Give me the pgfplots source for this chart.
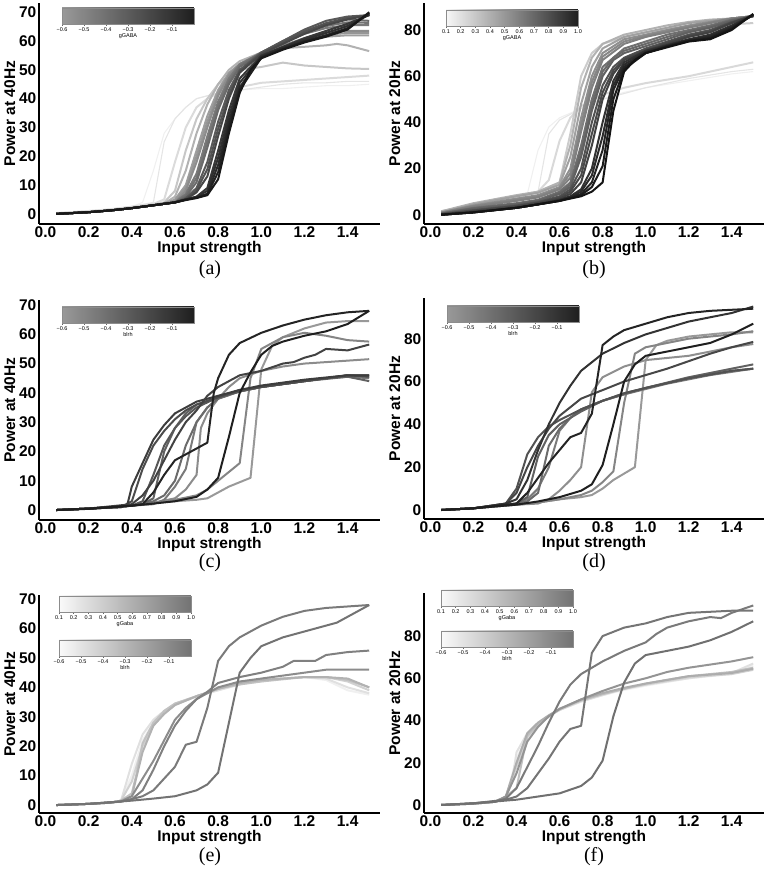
\documentclass[border=0pt]{standalone}
\usepackage{fontspec}
\setmainfont{Liberation Sans}
\newfontfamily\capfont{Liberation Serif}
\usepackage{pgfplots}
\pgfplotsset{compat=1.18}

\pgfplotsset{
  panel/.style={
    scale only axis, width=341pt, height=221pt,
    xmin=-0.03, xmax=1.55,
    axis x line=bottom, axis y line=left,
    axis line style={-, line width=1.2pt},
    major tick length=0pt,
    xtick={0,0.2,0.4,0.6,0.8,1.0,1.2,1.4},
    xticklabel style={/pgf/number format/fixed, /pgf/number format/fixed zerofill, /pgf/number format/precision=1, anchor=base, yshift=-13.5pt},
    yticklabel style={inner sep=2.5pt},
    /pgf/number format/assume math mode=true,
    tick label style={font=\fontsize{15.5}{16}\selectfont\bfseries},
    xlabel={Input strength},
    xlabel style={at={(axis description cs:0.5,-0.112)}, anchor=center, font=\fontsize{15.5}{16}\selectfont\bfseries},
    ylabel style={at={(axis description cs:-0.086,0.5)}, rotate=0, anchor=center, font=\fontsize{15.5}{16}\selectfont\bfseries},
    every axis plot/.append style={line width=2pt, line join=round, no markers},
    clip=false,
  },
  thin/.style={line width=1.1pt},
}

% colour bar: x, y, xmin, xmax, ticks, tick labels, left colour, right colour, label
\newcommand{\cbar}[9]{%
  \begin{axis}[at={(#1pt,#2pt)}, anchor=south west, scale only axis,
    width=132pt, height=16pt, xmin=#3, xmax=#4, ymin=0, ymax=1,
    ytick=\empty, xtick={#5}, xticklabels={#6}, axis on top,
    axis line style={black!45, line width=0.4pt},
    tick style={black!60, line width=0.4pt}, major tick length=2pt,
    tick align=outside, xtick pos=bottom,
    tick label style={font=\fontsize{5.5}{6}\selectfont, inner sep=1pt},
    xlabel={#9}, xlabel style={font=\fontsize{5.5}{6}\selectfont, inner sep=0pt, yshift=-1.5pt}]
    \fill[left color=#7, right color=#8] (axis cs:#3,0) rectangle (axis cs:#4,1);
  \end{axis}}

\begin{document}
\begin{tikzpicture}
\path[use as bounding box] (0pt,0pt) rectangle (768pt,876pt);

% ---------------- (a)
\begin{axis}[panel, at={(39pt,652pt)}, anchor=south west, ymin=-3.5, ymax=73.2,
  ytick={0,10,20,30,40,50,60,70}, ylabel={Power at 40Hz}]
\addplot[black!6, thin] coordinates {(0.05,0.3)(0.2,1)(0.3,1.6)(0.4,2.6)(0.45,4)(0.5,15)(0.55,28)(0.6,33)(0.65,37)(0.7,40)(0.75,41)(0.8,42)(0.9,43)(1.0,43.5)(1.1,43.5)(1.2,44)(1.3,44.5)(1.4,44.5)(1.5,45)};
\addplot[black!10, thin] coordinates {(0.05,0.3)(0.2,1)(0.3,1.6)(0.4,2.6)(0.5,4)(0.55,25)(0.6,33)(0.65,37)(0.7,40)(0.75,41)(0.8,42)(0.9,43)(1.0,44)(1.1,45)(1.2,45.5)(1.3,45.5)(1.4,46)(1.5,46)};
\addplot[black!14] coordinates {(0.05,0.3)(0.2,1)(0.3,1.6)(0.4,2.5)(0.5,3.5)(0.55,5)(0.6,18)(0.65,30)(0.7,37)(0.75,40)(0.8,42)(0.9,44)(1.0,45.5)(1.1,46)(1.2,46.5)(1.3,47)(1.4,47.5)(1.5,48)};
\addplot[black!22] coordinates {(0.05,0.1)(0.2,0.7)(0.3,1.3)(0.4,2.2)(0.5,3.2)(0.55,4)(0.6,8)(0.65,22)(0.7,33)(0.75,40)(0.8,45)(0.85,48)(0.9,50)(1.0,51)(1.1,52.5)(1.2,51.5)(1.3,51)(1.4,50.5)(1.5,50.3)};
\addplot[black!30] coordinates {(0.05,0)(0.2,0.6)(0.3,1.2)(0.4,2)(0.5,3)(0.55,3.6)(0.6,6)(0.65,15)(0.7,28)(0.75,38)(0.8,45)(0.85,50)(0.9,53)(1.0,56)(1.1,57.5)(1.2,58)(1.3,58.5)(1.35,59)(1.4,58.5)(1.5,56.5)};
\addplot[black!38] coordinates {(0.05,0)(0.2,0.6)(0.3,1.2)(0.4,2)(0.5,3)(0.55,3.5)(0.6,5)(0.65,10)(0.7,22)(0.75,34)(0.8,43)(0.85,49)(0.9,52)(1.0,55)(1.1,58)(1.2,60)(1.3,61.5)(1.4,62)(1.5,62)};
\addplot[black!41] coordinates {(0.05,0)(0.2,0.6)(0.3,1.2)(0.4,2)(0.5,3)(0.6,4.5)(0.65,9)(0.7,20)(0.75,32)(0.8,42)(0.85,48.5)(0.9,52)(1.0,55.2)(1.1,58.2)(1.2,60.5)(1.3,62.2)(1.4,62.8)(1.5,62.8)};
\addplot[black!45] coordinates {(0.05,0)(0.2,0.6)(0.3,1.2)(0.4,2)(0.5,3)(0.6,4)(0.65,8)(0.7,18)(0.75,30)(0.8,41)(0.85,48)(0.9,52)(1.0,55.5)(1.1,58.5)(1.2,61)(1.3,63)(1.4,63.5)(1.5,63.5)};
\addplot[black!52] coordinates {(0.05,0)(0.2,0.6)(0.3,1.2)(0.4,2)(0.5,3)(0.6,4)(0.65,7)(0.7,14)(0.75,27)(0.8,39)(0.85,47)(0.9,52)(1.0,56)(1.1,59.5)(1.2,62.5)(1.3,64.5)(1.4,65.5)(1.5,65.5)};
\addplot[black!55] coordinates {(0.05,0)(0.2,0.6)(0.3,1.2)(0.4,2)(0.5,3)(0.6,4)(0.65,6.5)(0.7,12.5)(0.75,25)(0.8,37.5)(0.85,46)(0.9,51.5)(1.0,56)(1.1,59.8)(1.2,63)(1.3,65.2)(1.4,66.5)(1.5,66.3)};
\addplot[black!58] coordinates {(0.05,0)(0.2,0.6)(0.3,1.2)(0.4,2)(0.5,3)(0.6,4)(0.65,6)(0.7,11)(0.75,23)(0.8,36)(0.85,45)(0.9,51)(1.0,56)(1.1,60)(1.2,63.5)(1.3,66)(1.4,67.5)(1.5,67)};
\addplot[black!65] coordinates {(0.05,0)(0.2,0.6)(0.3,1.2)(0.4,2)(0.5,3)(0.6,4)(0.65,5.5)(0.7,9)(0.75,18)(0.8,32)(0.85,43)(0.9,50)(1.0,56)(1.1,60)(1.2,64)(1.3,67)(1.4,68.5)(1.5,69)};
\addplot[black!68] coordinates {(0.05,0)(0.2,0.6)(0.3,1.2)(0.4,2)(0.5,3)(0.6,4)(0.65,5.2)(0.7,8.2)(0.75,15.5)(0.8,29.5)(0.85,41.5)(0.9,49.5)(1.0,55.8)(1.1,59.5)(1.2,63.2)(1.3,66.2)(1.4,68)(1.5,69)};
\addplot[black!72] coordinates {(0.05,0)(0.2,0.6)(0.3,1.2)(0.4,2)(0.5,3)(0.6,4)(0.65,5)(0.7,7.5)(0.75,13)(0.8,27)(0.85,40)(0.9,49)(1.0,55.5)(1.1,59)(1.2,62.5)(1.3,65.5)(1.4,67.5)(1.5,69)};
\addplot[black!78] coordinates {(0.05,0)(0.2,0.6)(0.3,1.2)(0.4,2)(0.5,3)(0.6,4)(0.65,5)(0.7,6)(0.75,9)(0.8,22)(0.85,36)(0.9,47)(1.0,55)(1.1,58)(1.2,61)(1.3,63.5)(1.4,66)(1.5,69)};
\addplot[black!81] coordinates {(0.05,0)(0.2,0.6)(0.3,1.2)(0.4,2)(0.5,3)(0.6,4)(0.65,5)(0.7,5.9)(0.75,8)(0.8,19.5)(0.85,34)(0.9,45.5)(1.0,54.8)(1.1,57.8)(1.2,60.5)(1.3,62.8)(1.4,65.2)(1.5,69.2)};
\addplot[black!84] coordinates {(0.05,0)(0.2,0.6)(0.3,1.2)(0.4,2)(0.5,3)(0.6,4)(0.65,5)(0.7,5.8)(0.75,7)(0.8,17)(0.85,32)(0.9,44)(1.0,54.5)(1.1,57.5)(1.2,60)(1.3,62)(1.4,64.5)(1.5,69.5)};
\addplot[black!87] coordinates {(0.05,0)(0.2,0.6)(0.3,1.2)(0.4,2)(0.5,3)(0.6,4)(0.65,4.9)(0.7,5.6)(0.75,6.8)(0.8,14.5)(0.85,30)(0.9,43)(1.0,54.2)(1.1,57.2)(1.2,59.8)(1.3,61.8)(1.4,64.2)(1.5,69.8)};
\addplot[black!90] coordinates {(0.05,0)(0.2,0.6)(0.3,1.2)(0.4,2)(0.5,3)(0.6,4)(0.65,4.8)(0.7,5.5)(0.75,6.5)(0.8,12)(0.85,28)(0.9,42)(0.95,50)(1.0,54)(1.1,57)(1.2,59.5)(1.3,61.5)(1.4,64)(1.5,70)};
\end{axis}

% ---------------- (b)
\begin{axis}[panel, width=340pt, at={(424pt,652pt)}, anchor=south west, ymin=-4, ymax=91.7,
  ytick={0,20,40,60,80}, ylabel={Power at 20Hz}]
\addplot[black!6, thin] coordinates {(0.05,1.5)(0.2,4)(0.3,5.5)(0.4,7)(0.45,9)(0.5,28)(0.55,38)(0.6,42)(0.7,46)(0.8,50)(0.9,53)(1.0,55)(1.2,58)(1.4,61)(1.5,62)};
\addplot[black!10, thin] coordinates {(0.05,1.5)(0.2,4)(0.3,5.5)(0.4,7)(0.5,10)(0.55,35)(0.6,41)(0.7,46)(0.8,50)(1.0,55)(1.2,59)(1.4,62)(1.5,63)};
\addplot[black!15] coordinates {(0.05,1.5)(0.2,4)(0.4,7.5)(0.5,10)(0.55,15)(0.6,32)(0.65,42)(0.7,47)(0.8,52)(0.9,55)(1.0,57)(1.2,60)(1.4,64)(1.5,66)};
\addplot[black!20] coordinates {(0.05,1.5)(0.2,4.5)(0.4,8)(0.5,10)(0.6,14)(0.65,35)(0.7,60)(0.75,70)(0.8,74)(0.9,77)(1.0,79)(1.1,80.5)(1.2,81.5)(1.3,82)(1.4,82.5)(1.5,83)};
\addplot[black!30] coordinates {(0.05,1.5)(0.2,5)(0.4,8.5)(0.5,10)(0.6,14)(0.65,30)(0.7,55)(0.75,68)(0.8,74)(0.9,78)(1.0,80)(1.1,82)(1.2,83.5)(1.3,84.5)(1.4,85)(1.5,86)};
\addplot[black!37] coordinates {(0.05,1)(0.2,4.5)(0.4,8)(0.5,9.5)(0.6,13)(0.65,25)(0.7,48)(0.75,64)(0.8,72)(0.9,77)(1.0,79)(1.1,81)(1.2,83)(1.3,84)(1.4,85)(1.5,86)};
\addplot[black!44] coordinates {(0.05,1)(0.2,4)(0.4,7)(0.5,8.5)(0.6,12)(0.65,20)(0.7,42)(0.75,60)(0.8,70)(0.9,76)(1.0,78)(1.1,80)(1.2,82)(1.3,83.5)(1.4,85)(1.5,86)};
\addplot[black!47] coordinates {(0.05,0.9)(0.2,3.8)(0.4,6.5)(0.5,8)(0.6,11.5)(0.65,18)(0.7,39)(0.75,57.5)(0.8,68.5)(0.9,75)(1.0,77.5)(1.1,79.5)(1.2,81.5)(1.3,83.2)(1.4,85)(1.5,86)};
\addplot[black!50] coordinates {(0.05,0.8)(0.2,3.5)(0.4,6)(0.5,7.5)(0.6,11)(0.65,16)(0.7,36)(0.75,55)(0.8,67)(0.9,74)(1.0,77)(1.1,79)(1.2,81)(1.3,83)(1.4,85)(1.5,86)};
\addplot[black!56] coordinates {(0.05,0.6)(0.2,3)(0.4,5)(0.5,6.5)(0.6,10)(0.65,14)(0.7,30)(0.75,50)(0.8,64)(0.9,72)(1.0,75)(1.1,78)(1.2,80)(1.3,82)(1.4,84.5)(1.5,86)};
\addplot[black!59] coordinates {(0.05,0.5)(0.2,2.8)(0.4,4.8)(0.5,6.2)(0.6,9.5)(0.65,13)(0.7,27.5)(0.75,47.5)(0.8,62)(0.85,68)(0.9,71)(1.0,74)(1.1,77)(1.2,79.5)(1.3,81.5)(1.4,84.2)(1.5,86)};
\addplot[black!62] coordinates {(0.05,0.5)(0.2,2.5)(0.4,4.5)(0.5,6)(0.6,9)(0.65,12)(0.7,25)(0.75,45)(0.8,60)(0.85,67)(0.9,70)(1.0,73)(1.1,76)(1.2,79)(1.3,81)(1.4,84)(1.5,86)};
\addplot[black!68] coordinates {(0.05,0.3)(0.2,2)(0.4,4)(0.5,5.5)(0.6,8)(0.65,11)(0.7,20)(0.75,40)(0.8,56)(0.85,64)(0.9,68)(1.0,72)(1.1,75)(1.2,78)(1.3,80)(1.4,83.5)(1.5,86)};
\addplot[black!71] coordinates {(0.05,0.2)(0.2,1.8)(0.4,3.8)(0.5,5.2)(0.6,7.5)(0.65,10)(0.7,17)(0.75,35)(0.8,53)(0.85,62.5)(0.9,67.5)(1.0,71.5)(1.1,74.5)(1.2,77.5)(1.3,79.5)(1.4,83.2)(1.5,86.2)};
\addplot[black!74] coordinates {(0.05,0.2)(0.2,1.5)(0.4,3.5)(0.5,5)(0.6,7)(0.65,9)(0.7,14)(0.75,30)(0.8,50)(0.85,61)(0.9,67)(1.0,71)(1.1,74)(1.2,77)(1.3,79)(1.4,83)(1.5,86.5)};
\addplot[black!80] coordinates {(0.05,0)(0.2,1.2)(0.4,3)(0.5,4.5)(0.6,6.5)(0.65,8)(0.7,11)(0.75,20)(0.8,40)(0.85,58)(0.9,66)(1.0,71)(1.1,73.5)(1.2,76)(1.3,78)(1.4,82)(1.5,86.5)};
\addplot[black!83] coordinates {(0.05,0)(0.2,1.1)(0.4,3)(0.5,4.5)(0.6,6.2)(0.65,7.8)(0.7,10)(0.75,17)(0.8,34)(0.85,56)(0.9,65)(1.0,70.5)(1.1,73.2)(1.2,75.8)(1.3,77.5)(1.4,81.5)(1.5,86.5)};
\addplot[black!86] coordinates {(0.05,0)(0.2,1)(0.4,3)(0.5,4.5)(0.6,6)(0.65,7.5)(0.7,9)(0.75,14)(0.8,28)(0.85,54)(0.9,64)(1.0,70)(1.1,73)(1.2,75.5)(1.3,77)(1.4,81)(1.5,86.5)};
\addplot[black!89] coordinates {(0.05,0)(0.2,1)(0.4,3)(0.5,4.5)(0.6,6)(0.65,7.2)(0.7,8.5)(0.75,12)(0.8,21)(0.85,50)(0.9,63)(1.0,70)(1.1,72.8)(1.2,75.2)(1.3,76.5)(1.4,80.5)(1.5,86.8)};
\addplot[black!92] coordinates {(0.05,0)(0.2,1)(0.4,3)(0.5,4.5)(0.6,6)(0.65,7)(0.7,8)(0.75,10)(0.8,14)(0.85,45)(0.9,62)(0.95,67)(1.0,70)(1.1,72.5)(1.2,75)(1.3,76)(1.4,80)(1.5,87)};
\end{axis}

% ---------------- (c)
\begin{axis}[panel, height=220pt, at={(39pt,356pt)}, anchor=south west, ymin=-3.4, ymax=71.7,
  ytick={0,10,20,30,40,50,60,70}, ylabel={Power at 40Hz}]
\addplot[black!40] coordinates {(0.05,0)(0.2,0.5)(0.35,1)(0.4,1.5)(0.5,2.5)(0.6,3)(0.7,3.5)(0.75,4)(0.8,6)(0.85,8)(0.9,9.5)(0.95,11)(1.0,48)(1.05,56)(1.1,59)(1.2,62)(1.3,64)(1.4,64.5)(1.5,64.5)};
\addplot[black!45] coordinates {(0.05,0)(0.2,0.5)(0.4,1.5)(0.5,2.5)(0.6,4)(0.65,7)(0.7,12)(0.72,28)(0.75,33)(0.8,38)(0.85,42)(0.9,45)(1.0,47.5)(1.1,49)(1.2,50)(1.3,50.5)(1.4,51)(1.5,51.5)};
\addplot[black!48] coordinates {(0.05,0)(0.2,0.5)(0.4,1.5)(0.5,2.5)(0.6,3.5)(0.7,5)(0.75,7)(0.8,10)(0.85,13)(0.9,16)(0.95,45)(1.0,55)(1.1,59)(1.2,60.5)(1.3,59.5)(1.4,58)(1.5,57.5)};
\addplot[black!52] coordinates {(0.05,0)(0.2,0.5)(0.35,1)(0.4,1.5)(0.5,2)(0.55,3.5)(0.6,8)(0.65,14)(0.7,30)(0.75,35)(0.8,38)(0.9,40.5)(1.0,42)(1.1,43)(1.2,44)(1.3,45)(1.4,45.5)(1.5,45)};
\addplot[black!58] coordinates {(0.05,0)(0.2,0.5)(0.4,1.5)(0.45,2)(0.5,3)(0.55,5)(0.6,10)(0.65,22)(0.7,30)(0.75,35)(0.8,38)(0.9,40.5)(1.0,42)(1.2,44)(1.4,46)(1.5,46)};
\addplot[black!62] coordinates {(0.05,0)(0.2,0.5)(0.4,1.5)(0.45,2)(0.5,4)(0.55,20)(0.6,28)(0.65,33)(0.7,36)(0.8,38.5)(0.9,40.5)(1.0,42)(1.2,44)(1.4,45.5)(1.5,44)};
\addplot[black!66] coordinates {(0.05,0)(0.2,0.5)(0.4,1.5)(0.45,3)(0.5,12)(0.55,22)(0.6,28)(0.65,32)(0.7,35)(0.8,38.5)(0.9,40.5)(1.0,42)(1.2,44)(1.4,46)(1.5,46)};
\addplot[black!70] coordinates {(0.05,0)(0.2,0.5)(0.35,1)(0.4,3)(0.45,14)(0.5,22)(0.55,27)(0.6,31)(0.65,34)(0.7,36)(0.8,38.5)(0.9,41)(1.0,42)(1.2,44)(1.4,46)(1.5,45.5)};
\addplot[black!76] coordinates {(0.05,0)(0.2,0.5)(0.35,1)(0.38,2)(0.4,8)(0.45,16)(0.5,24)(0.55,29)(0.6,33)(0.65,35)(0.7,37)(0.8,39)(0.9,41)(1.0,42.5)(1.2,44.5)(1.4,46)(1.5,46)};
\addplot[black!74] coordinates {(0.05,0)(0.2,0.5)(0.4,2)(0.45,5)(0.5,10)(0.55,17)(0.6,24)(0.65,30)(0.7,34)(0.75,39)(0.8,42)(0.85,44)(0.9,46)(1.0,47.5)(1.1,50)(1.15,50.5)(1.2,52)(1.25,53)(1.3,55)(1.4,54.5)(1.5,56.5)};
\addplot[black!86] coordinates {(0.05,0)(0.2,0.5)(0.4,1.5)(0.45,2)(0.5,6)(0.55,12)(0.6,17)(0.65,19)(0.7,21)(0.75,23)(0.78,40)(0.8,45)(0.85,53)(0.9,57)(1.0,60.5)(1.1,63)(1.2,65)(1.3,66.5)(1.4,67.5)(1.5,68)};
\addplot[black!88] coordinates {(0.05,0)(0.2,0.4)(0.4,1.5)(0.5,2.2)(0.6,3)(0.7,4.5)(0.75,7)(0.8,11)(0.85,25)(0.9,40)(0.95,47)(1.0,53)(1.05,56)(1.1,57.5)(1.2,59.5)(1.3,61)(1.4,63.5)(1.5,68)};
\end{axis}

% ---------------- (d)
\begin{axis}[panel, width=340pt, at={(424pt,357pt)}, anchor=south west, ymin=-4.2, ymax=99,
  ytick={0,20,40,60,80}, ylabel={Power at 20Hz}]
\addplot[black!40] coordinates {(0.05,0)(0.2,0.8)(0.4,2.5)(0.5,3.5)(0.6,5)(0.7,6)(0.75,7)(0.8,10)(0.85,14)(0.9,17)(0.95,20)(1.0,70)(1.05,77)(1.1,79)(1.2,81)(1.3,82)(1.4,83)(1.5,83)};
\addplot[black!44] coordinates {(0.05,0)(0.2,0.8)(0.4,2.5)(0.5,3)(0.55,5)(0.6,9)(0.65,14)(0.7,20)(0.75,55)(0.8,62)(0.9,67)(1.0,70)(1.1,71)(1.2,72)(1.3,74)(1.4,76)(1.5,77.5)};
\addplot[black!48] coordinates {(0.05,0)(0.2,0.8)(0.4,2.5)(0.5,3.5)(0.6,5)(0.7,7)(0.75,9)(0.8,13)(0.85,18)(0.9,50)(0.95,73)(1.0,76)(1.1,78)(1.2,80)(1.3,81)(1.4,82)(1.5,83.5)};
\addplot[black!52] coordinates {(0.05,0)(0.2,0.8)(0.4,3)(0.45,5)(0.5,10)(0.55,20)(0.6,37)(0.65,43)(0.7,47)(0.8,51)(0.9,54)(1.0,56.5)(1.1,59)(1.2,61)(1.3,63)(1.4,64.5)(1.5,66)};
\addplot[black!58] coordinates {(0.05,0)(0.2,0.8)(0.4,3)(0.45,4)(0.5,8)(0.55,30)(0.6,38)(0.65,43)(0.7,47)(0.8,51)(0.9,54)(1.0,57)(1.2,61.5)(1.4,65)(1.5,66)};
\addplot[black!62] coordinates {(0.05,0)(0.2,0.8)(0.4,3)(0.45,6)(0.5,25)(0.55,35)(0.6,40)(0.7,46)(0.8,51)(0.9,54.5)(1.0,57)(1.2,62)(1.4,66)(1.5,68)};
\addplot[black!68] coordinates {(0.05,0)(0.2,0.8)(0.35,3)(0.4,10)(0.45,26)(0.5,34)(0.55,39)(0.6,42)(0.7,47)(0.8,51)(0.9,54.5)(1.0,57)(1.2,61.5)(1.4,65)(1.5,66)};
\addplot[black!72] coordinates {(0.05,0)(0.2,0.8)(0.35,3)(0.4,8)(0.45,20)(0.5,30)(0.55,38)(0.6,44)(0.65,48)(0.7,52)(0.8,56)(0.9,60)(1.0,63)(1.1,66)(1.2,69.5)(1.3,73)(1.4,76)(1.5,78.5)};
\addplot[black!80] coordinates {(0.05,0)(0.2,0.8)(0.35,3)(0.4,5)(0.45,14)(0.5,28)(0.55,40)(0.6,50)(0.65,58)(0.7,65)(0.75,69)(0.8,73)(0.9,78)(1.0,82)(1.1,85)(1.2,88)(1.3,90)(1.4,92)(1.5,95)};
\addplot[black!86] coordinates {(0.05,0)(0.2,0.8)(0.4,3)(0.45,8)(0.5,15)(0.55,22)(0.6,28)(0.65,34)(0.7,36)(0.75,45)(0.8,77)(0.85,81)(0.9,84)(1.0,87)(1.1,90)(1.2,92)(1.3,93)(1.4,93.5)(1.5,94)};
\addplot[black!88] coordinates {(0.05,0)(0.2,0.8)(0.4,2.5)(0.5,4)(0.6,6)(0.7,9)(0.75,12)(0.8,21)(0.85,40)(0.9,60)(0.95,68)(1.0,72)(1.1,74)(1.2,76)(1.3,78)(1.4,82)(1.5,87)};
\end{axis}

% ---------------- (e)
\begin{axis}[panel, height=218pt, at={(39pt,63pt)}, anchor=south west, ymin=-2.7, ymax=71.4,
  ytick={0,10,20,30,40,50,60,70}, ylabel={Power at 40Hz}]
\addplot[black!6] coordinates {(0.05,0)(0.2,0.4)(0.3,0.8)(0.35,1.5)(0.4,10)(0.45,22)(0.5,28)(0.55,32)(0.6,34)(0.7,37)(0.8,39)(0.9,41)(1.0,42)(1.1,43)(1.2,43.5)(1.3,42.5)(1.4,39)(1.5,37.5)};
\addplot[black!12] coordinates {(0.05,0)(0.2,0.4)(0.3,0.8)(0.35,1.5)(0.4,14)(0.45,24)(0.5,29)(0.55,32)(0.6,34.5)(0.7,37)(0.8,39)(0.9,41)(1.0,42.5)(1.1,43)(1.2,43.5)(1.3,43)(1.4,40)(1.5,38)};
\addplot[black!18] coordinates {(0.05,0)(0.2,0.4)(0.3,0.8)(0.35,1.5)(0.4,8)(0.45,20)(0.5,27)(0.55,31)(0.6,34)(0.7,37)(0.8,39.5)(0.9,41.5)(1.0,42.5)(1.2,43.5)(1.3,43.5)(1.4,42)(1.5,39)};
\addplot[black!24] coordinates {(0.05,0)(0.2,0.4)(0.3,0.8)(0.35,1.5)(0.4,4)(0.42,10)(0.45,21)(0.5,28)(0.55,32)(0.6,34.5)(0.7,37)(0.8,39.5)(0.9,41)(1.0,42)(1.2,43.5)(1.3,43.5)(1.4,42.5)(1.5,40)};
\addplot[black!30] coordinates {(0.05,0)(0.2,0.4)(0.3,0.8)(0.35,1.5)(0.4,3)(0.45,18)(0.5,27)(0.55,31)(0.6,34)(0.7,37)(0.8,39.5)(0.9,41.5)(1.0,42.5)(1.2,43.5)(1.3,43.5)(1.4,43)(1.5,40)};
\addplot[black!45] coordinates {(0.05,0)(0.2,0.4)(0.3,0.8)(0.35,1.2)(0.4,3)(0.45,9)(0.5,15)(0.55,22)(0.6,29)(0.65,33)(0.7,36)(0.75,38)(0.8,40)(0.9,42)(1.0,43)(1.1,44)(1.2,45)(1.3,46)(1.4,46)(1.5,46)};
\addplot[black!50] coordinates {(0.05,0)(0.2,0.4)(0.35,1.2)(0.4,2)(0.45,5)(0.5,12)(0.55,20)(0.6,27)(0.65,32)(0.7,36)(0.75,38.5)(0.8,41.5)(0.9,43.5)(1.0,45)(1.1,47)(1.15,49)(1.25,49)(1.3,51)(1.4,52)(1.5,52.5)};
\addplot[black!52] coordinates {(0.05,0)(0.2,0.4)(0.35,1.2)(0.4,2)(0.45,3)(0.5,5)(0.55,9)(0.6,13)(0.65,20.5)(0.7,21.5)(0.75,33)(0.8,49)(0.85,54)(0.9,57)(0.95,59)(1.0,61)(1.1,64)(1.2,66)(1.3,67)(1.4,67.5)(1.5,68)};
\addplot[black!55] coordinates {(0.05,0)(0.2,0.4)(0.4,1.5)(0.5,2.2)(0.6,3)(0.7,5)(0.75,7)(0.8,11)(0.85,28)(0.9,45)(0.95,50)(1.0,54)(1.1,57)(1.2,59)(1.3,61)(1.35,62)(1.4,64)(1.5,68)};
\end{axis}

% ---------------- (f)
\begin{axis}[panel, width=340pt, height=220pt, at={(424pt,63pt)}, anchor=south west, ymin=-3.8, ymax=100.4,
  ytick={0,20,40,60,80}, ylabel={Power at 20Hz}]
\addplot[black!6] coordinates {(0.05,0)(0.2,0.6)(0.3,1.5)(0.35,3)(0.4,22)(0.45,33)(0.5,38)(0.55,42)(0.6,45)(0.7,49)(0.8,52)(0.9,54.5)(1.0,56.5)(1.2,60)(1.4,62)(1.5,66)};
\addplot[black!12] coordinates {(0.05,0)(0.2,0.6)(0.3,1.5)(0.35,3)(0.38,12)(0.4,25)(0.45,34)(0.5,39)(0.55,42)(0.6,45)(0.7,49)(0.8,52)(0.9,55)(1.0,57)(1.2,60)(1.4,62.5)(1.5,67)};
\addplot[black!18] coordinates {(0.05,0)(0.2,0.6)(0.3,1.5)(0.35,4)(0.4,18)(0.45,32)(0.5,38)(0.55,42)(0.6,45)(0.7,49.5)(0.8,52.5)(0.9,55)(1.0,57)(1.2,60.5)(1.4,62)(1.5,64)};
\addplot[black!25] coordinates {(0.05,0)(0.2,0.6)(0.3,1.5)(0.35,4)(0.4,8)(0.45,33)(0.5,38)(0.55,42)(0.6,45.5)(0.7,49.5)(0.8,52.5)(0.9,55)(1.0,57.5)(1.2,61)(1.4,63)(1.5,65)};
\addplot[black!32] coordinates {(0.05,0)(0.2,0.6)(0.3,1.5)(0.35,4)(0.4,20)(0.45,34)(0.5,39)(0.55,42.5)(0.6,45.5)(0.7,50)(0.8,53)(0.9,55.5)(1.0,57.5)(1.2,61)(1.4,62.5)(1.5,64.5)};
\addplot[black!42] coordinates {(0.05,0)(0.2,0.6)(0.3,1.5)(0.35,4)(0.4,15)(0.45,30)(0.5,37)(0.55,42)(0.6,45.5)(0.7,50)(0.8,54)(0.9,57.5)(1.0,60)(1.1,63)(1.2,65)(1.3,66.5)(1.4,68)(1.5,70)};
\addplot[black!52] coordinates {(0.05,0)(0.2,0.8)(0.3,1.5)(0.35,3)(0.4,8)(0.45,18)(0.5,28)(0.55,39)(0.6,49)(0.65,57)(0.7,62)(0.75,65)(0.8,68)(0.9,73)(0.95,75)(1.0,77)(1.05,81)(1.1,84)(1.2,87)(1.3,89)(1.35,88.5)(1.4,91)(1.5,94.5)};
\addplot[black!54] coordinates {(0.05,0)(0.2,0.8)(0.35,2.5)(0.4,4)(0.45,8)(0.5,15)(0.55,22)(0.6,30)(0.65,36)(0.7,37.5)(0.75,72)(0.8,80)(0.85,82)(0.9,84)(1.0,86)(1.1,89)(1.2,91)(1.3,91.5)(1.4,92)(1.5,92)};
\addplot[black!56] coordinates {(0.05,0)(0.2,0.8)(0.4,2.5)(0.5,4)(0.6,5.5)(0.7,9)(0.75,13)(0.8,21)(0.85,42)(0.9,58)(0.95,67)(1.0,71)(1.1,73)(1.2,75)(1.3,78)(1.4,82)(1.5,87)};
\end{axis}

% ---------------- colour bars
\cbar{62}{852}{-0.6}{0}{-0.6,-0.5,-0.4,-0.3,-0.2,-0.1}{−0.6,−0.5,−0.4,−0.3,−0.2,−0.1}{black!40}{black!88}{gGABA}
\cbar{446}{850}{0.1}{1.0}{0.1,0.2,...,1.0}{0.1,0.2,0.3,0.4,0.5,0.6,0.7,0.8,0.9,1.0}{black!3}{black!88}{gGABA}
\cbar{62}{553}{-0.6}{0}{-0.6,-0.5,-0.4,-0.3,-0.2,-0.1}{−0.6,−0.5,−0.4,−0.3,−0.2,−0.1}{black!40}{black!88}{blrh}
\cbar{447}{554}{-0.6}{0}{-0.6,-0.5,-0.4,-0.3,-0.2,-0.1}{−0.6,−0.5,−0.4,−0.3,−0.2,−0.1}{black!40}{black!88}{blrh}
\cbar{59}{264}{0.1}{1.0}{0.1,0.2,...,1.0}{0.1,0.2,0.3,0.4,0.5,0.6,0.7,0.8,0.9,1.0}{black!2}{black!55}{gGaba}
\cbar{59}{220}{-0.6}{0}{-0.6,-0.5,-0.4,-0.3,-0.2,-0.1}{−0.6,−0.5,−0.4,−0.3,−0.2,−0.1}{black!2}{black!55}{blrh}
\cbar{441}{270}{0.1}{1.0}{0.1,0.2,...,1.0}{0.1,0.2,0.3,0.4,0.5,0.6,0.7,0.8,0.9,1.0}{black!2}{black!55}{gGaba}
\cbar{441}{229}{-0.6}{0}{-0.6,-0.5,-0.4,-0.3,-0.2,-0.1}{−0.6,−0.5,−0.4,−0.3,−0.2,−0.1}{black!2}{black!55}{blrh}

% ---------------- captions
\node[font=\capfont\fontsize{20}{22}\selectfont] at (210pt,606pt) {(a)};
\node[font=\capfont\fontsize{20}{22}\selectfont] at (594pt,606pt) {(b)};
\node[font=\capfont\fontsize{20}{22}\selectfont] at (210pt,313pt) {(c)};
\node[font=\capfont\fontsize{20}{22}\selectfont] at (594pt,313pt) {(d)};
\node[font=\capfont\fontsize{20}{22}\selectfont] at (210pt,19pt) {(e)};
\node[font=\capfont\fontsize{20}{22}\selectfont] at (594pt,19pt) {(f)};
\end{tikzpicture}
\end{document}
